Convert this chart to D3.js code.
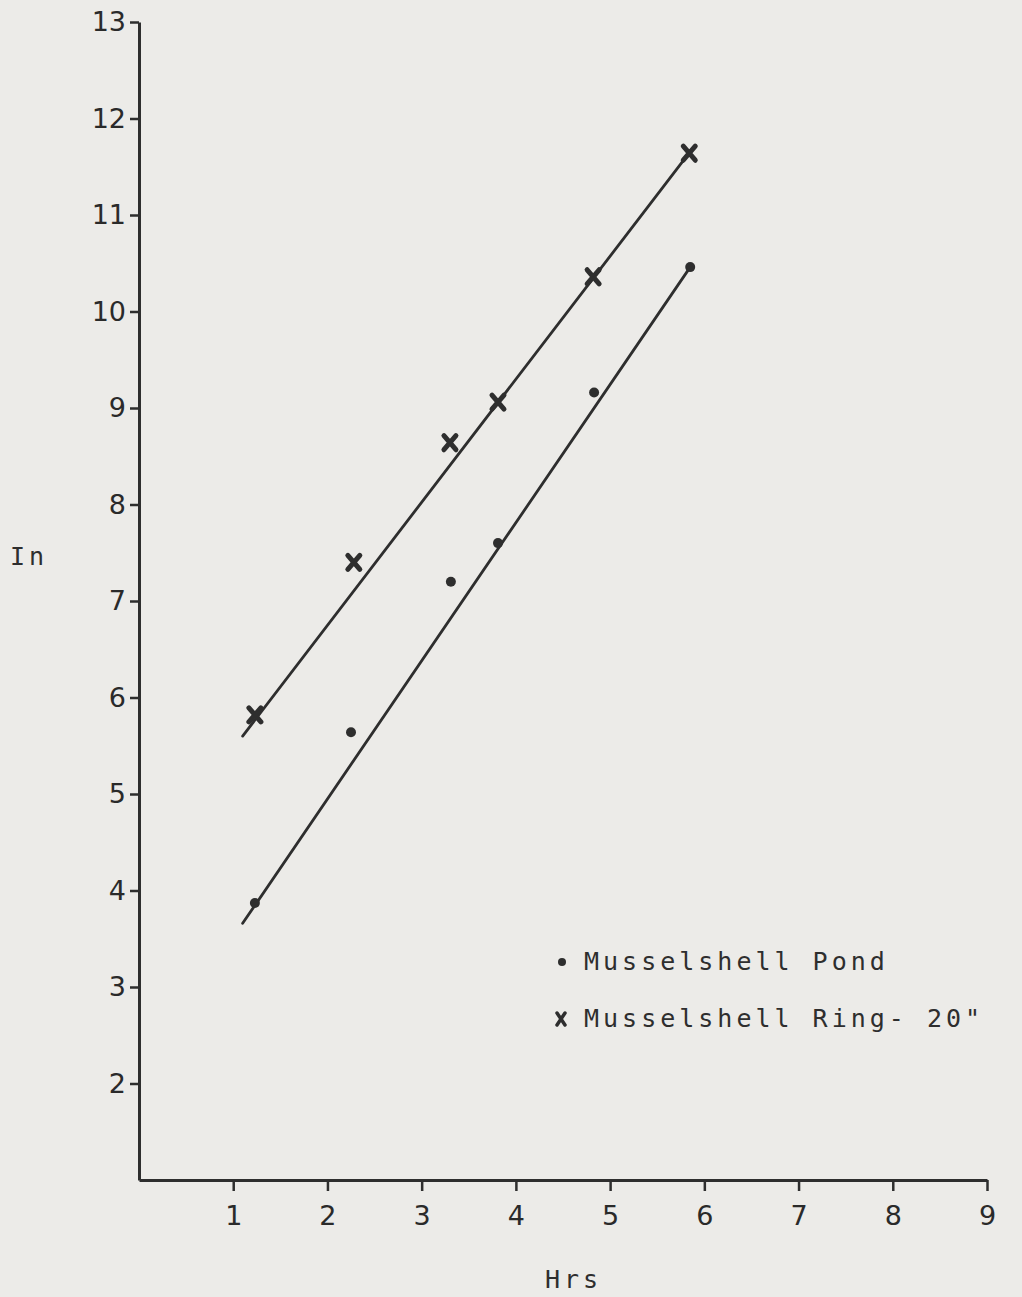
<!DOCTYPE html>
<html>
<head>
<meta charset="utf-8">
<script src="https://cdn.jsdelivr.net/npm/d3@7"></script>
<style>
  body { margin: 0; background: #ecebe8; }
  svg { display: block; }
  .tickLabel { font-family: "DejaVu Sans", sans-serif; font-size: 27px; fill: #2a2a2a; }
  .typed { font-family: "DejaVu Sans Mono", monospace; font-size: 25px; fill: #2e2e2e; letter-spacing: 4px; }
</style>
</head>
<body>
<div id="chart"></div>
<script>
// values
var xTicks = [1, 2, 3, 4, 5, 6, 7, 8, 9];
var yTicks = [2, 3, 4, 5, 6, 7, 8, 9, 10, 11, 12, 13];

var pondHrs = [1.23, 2.25, 3.31, 3.81, 4.83, 5.85];
var pondIn = [3.87, 5.64, 7.20, 7.60, 9.16, 10.46];

var ringHrs = [1.23, 2.28, 3.30, 3.81, 4.82, 5.84];
var ringIn = [5.82, 7.40, 8.64, 9.06, 10.36, 11.64];

// fitted lines as drawn (end points)
var pondFit = [[1.10, 3.66], [5.85, 10.46]];
var ringFit = [[1.10, 5.60], [5.86, 11.67]];

var legendLabels = ["Musselshell Pond", "Musselshell Ring- 20\""];

var svgWidth = 1022;
var svgHeight = 1297;

var svg = d3.select("#chart").append("svg")
    .attr("width", svgWidth)
    .attr("height", svgHeight);

svg.append("rect")
    .attr("width", svgWidth)
    .attr("height", svgHeight)
    .attr("fill", "#ecebe8");

var x = d3.scaleLinear().domain([0, 9]).range([139, 987]);
var y = d3.scaleLinear().domain([1, 13]).range([1180, 22]);

var ink = "#2e2e2e";

// axes
var xAxis = svg.append("g")
    .attr("transform", "translate(0,1180)")
    .call(d3.axisBottom(x).tickValues(xTicks).tickSize(11).tickSizeOuter(0).tickFormat(d3.format("d")));
var yAxis = svg.append("g")
    .attr("transform", "translate(139,0)")
    .call(d3.axisLeft(y).tickValues(yTicks).tickSize(9).tickSizeOuter(0).tickFormat(d3.format("d")));

[xAxis, yAxis].forEach(function (g) {
    g.select(".domain").attr("stroke", ink).attr("stroke-width", 3);
    g.selectAll(".tick line").attr("stroke", ink).attr("stroke-width", 2.5);
    g.selectAll(".tick text").attr("class", "tickLabel").attr("font-size", null).attr("font-family", null);
});
xAxis.selectAll(".tick text").attr("y", 26);
yAxis.selectAll(".tick text").attr("x", -13);

// fitted lines
var line = d3.line().x(d => x(d[0])).y(d => y(d[1]));
[pondFit, ringFit].forEach(function (seg) {
    svg.append("path")
        .attr("d", line(seg))
        .attr("fill", "none")
        .attr("stroke", ink)
        .attr("stroke-width", 2.8)
        .attr("stroke-linecap", "round");
});

// pond dots
var pond = pondHrs.map((h, i) => ({ h: h, v: pondIn[i] }));
svg.selectAll("circle.pond")
    .data(pond)
    .enter()
    .append("circle")
    .attr("class", "pond")
    .attr("cx", d => x(d.h))
    .attr("cy", d => y(d.v))
    .attr("r", 5)
    .attr("fill", ink);

// ring crosses
var ring = ringHrs.map((h, i) => ({ h: h, v: ringIn[i] }));
var cross = "M-6,-7L6,7M6,-7L-6,7";
svg.selectAll("path.ring")
    .data(ring)
    .enter()
    .append("path")
    .attr("class", "ring")
    .attr("transform", d => `translate(${x(d.h)},${y(d.v)})`)
    .attr("d", cross)
    .attr("stroke", ink)
    .attr("stroke-width", 5)
    .attr("stroke-linecap", "round");

// legend
svg.append("circle")
    .attr("cx", 562).attr("cy", 962).attr("r", 4)
    .attr("fill", ink);
svg.append("path")
    .attr("transform", "translate(561,1019)")
    .attr("d", "M-4,-6L4,6M4,-6L-4,6")
    .attr("stroke", ink).attr("stroke-width", 3.5).attr("stroke-linecap", "round");
svg.selectAll("text.legend")
    .data(legendLabels)
    .enter()
    .append("text")
    .attr("class", "typed")
    .attr("x", 584)
    .attr("y", (d, i) => 970 + i * 57)
    .text(d => d);

// axis titles
svg.append("text")
    .attr("class", "typed")
    .attr("x", 10)
    .attr("y", 565)
    .text("In");
svg.append("text")
    .attr("class", "typed")
    .attr("x", 545)
    .attr("y", 1288)
    .text("Hrs");
</script>
</body>
</html>
